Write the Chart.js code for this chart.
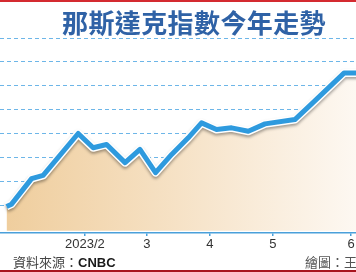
<!DOCTYPE html>
<html>
<head>
<meta charset="utf-8">
<script src="https://cdn.jsdelivr.net/npm/chart.js@4"></script>
<style>
  body { margin: 0; background: #fff; }
  #wrap { position: relative; width: 356px; height: 272px; overflow: hidden; background: #fff; }
  #box { position: absolute; left: 0; top: 0; width: 356px; height: 272px; }
  .red-top { position: absolute; left: 0; top: 0; width: 356px; height: 2px; background: #d42a30; }
  .red-bottom { position: absolute; left: 0; top: 270px; width: 356px; height: 2px; background: #a8141e; }
  .title { position: absolute; left: 62px; top: 9px; font: bold 26px "Noto Sans CJK TC", sans-serif; line-height: 26px; letter-spacing: 0.4px; color: #2f62a6; white-space: nowrap; }
  .src { position: absolute; left: 13px; top: 255px; font: 13px "Noto Sans CJK TC", sans-serif; line-height: 13px; color: #444; white-space: nowrap; }
  .src b { font-family: "Liberation Sans", Arial, sans-serif; color: #1a1a1a; }
  .credit { position: absolute; left: 305px; top: 255px; font: 13px "Noto Sans CJK TC", sans-serif; line-height: 13px; color: #555; white-space: nowrap; }
</style>
</head>
<body>
<div id="wrap">
  <div id="box"><canvas id="myChart"></canvas></div>
  <div class="red-top"></div>
  <div class="title">那斯達克指數今年走勢</div>
  <div class="src">資料來源：<b>CNBC</b></div>
  <div class="credit">繪圖：王</div>
  <div class="red-bottom"></div>
</div>
<script>
// weeks since the last close of 2022
let semanas = [0.42, 0.74, 2.02, 2.76, 5.0, 5.96, 6.82, 8.0, 8.95, 9.95, 10.98, 12.04, 12.89, 13.85, 14.81, 15.88, 16.95, 18.86, 20.0, 22.0, 23.0]
let nasdaq = [10473, 10521, 11056, 11125, 12000, 11702, 11771, 11390, 11667, 11181, 11562, 11910, 12223, 12083, 12119, 12048, 12202, 12292, 12640, 13265, 13265]
let mesesPos = [5.43, 9.4, 13.43, 17.46, 22.45]
let mesesLabel = ['2023/2', '3', '4', '5', '6']
let grade = [10500, 11000, 11500, 12000, 12500, 13000, 13500, 14000]

let pontos = semanas.map((s, i) => ({ x: s, y: nasdaq[i] }))

// shadow under the white outline of the line
const sombra = {
    id: 'sombra',
    beforeDatasetDraw(chart, args) {
        if (args.index !== 1) return
        const c = chart.ctx
        c.save()
        c.shadowColor = 'rgba(0,0,0,0.35)'
        c.shadowBlur = 3
        c.shadowOffsetY = 2
    },
    afterDatasetDraw(chart, args) {
        if (args.index === 1) chart.ctx.restore()
    }
}

var ctx = document.getElementById('myChart').getContext('2d');
var grafico = new Chart(ctx, {
    type: 'line',
    data: {
        datasets: [{
            data: pontos,
            borderColor: '#2e9ade',
            borderWidth: 5,
            borderJoinStyle: 'round',
            pointRadius: 0,
            tension: 0,
            fill: false
        }, {
            data: pontos,
            borderColor: '#ffffff',
            borderWidth: 8,
            borderJoinStyle: 'round',
            pointRadius: 0,
            tension: 0,
            fill: false
        }, {
            data: pontos,
            borderWidth: 0,
            pointRadius: 0,
            tension: 0,
            fill: { value: 9965 },
            backgroundColor: function (c) {
                const area = c.chart.chartArea
                if (!area) return '#f4dcb6'
                const g = c.chart.ctx.createLinearGradient(area.left, 0, area.right, 0)
                g.addColorStop(0, '#efcd9c')
                g.addColorStop(0.5, '#f6e2c6')
                g.addColorStop(1, '#fdf8f2')
                return g
            }
        }]
    },
    options: {
        responsive: true,
        maintainAspectRatio: false,
        animation: false,
        layout: { padding: { top: 38, bottom: 18.4, left: 0, right: 0 } },
        plugins: { legend: { display: false }, tooltip: { enabled: false } },
        scales: {
            x: {
                type: 'linear',
                min: 0,
                max: 22.77,
                afterBuildTicks: function (s) { s.ticks = mesesPos.map(v => ({ value: v })) },
                ticks: {
                    autoSkip: false,
                    maxRotation: 0,
                    padding: 1,
                    color: '#333',
                    font: { family: 'Liberation Sans, Arial, sans-serif', size: 13 },
                    callback: function (v) {
                        const i = mesesPos.indexOf(v)
                        return i >= 0 ? mesesLabel[i] : ''
                    }
                },
                grid: { drawOnChartArea: false, drawTicks: true, tickLength: 3, color: '#4aa0da', lineWidth: 1.5 },
                border: { display: true, color: '#4aa0da', width: 1.5 }
            },
            y: {
                min: 9917,
                max: 14000,
                afterBuildTicks: function (s) { s.ticks = grade.map(v => ({ value: v })) },
                ticks: { display: false },
                grid: { color: '#6db6e8', lineWidth: 1, drawTicks: false },
                border: { display: false, dash: [4, 3] }
            }
        }
    },
    plugins: [sombra]
});
</script>
</body>
</html>
